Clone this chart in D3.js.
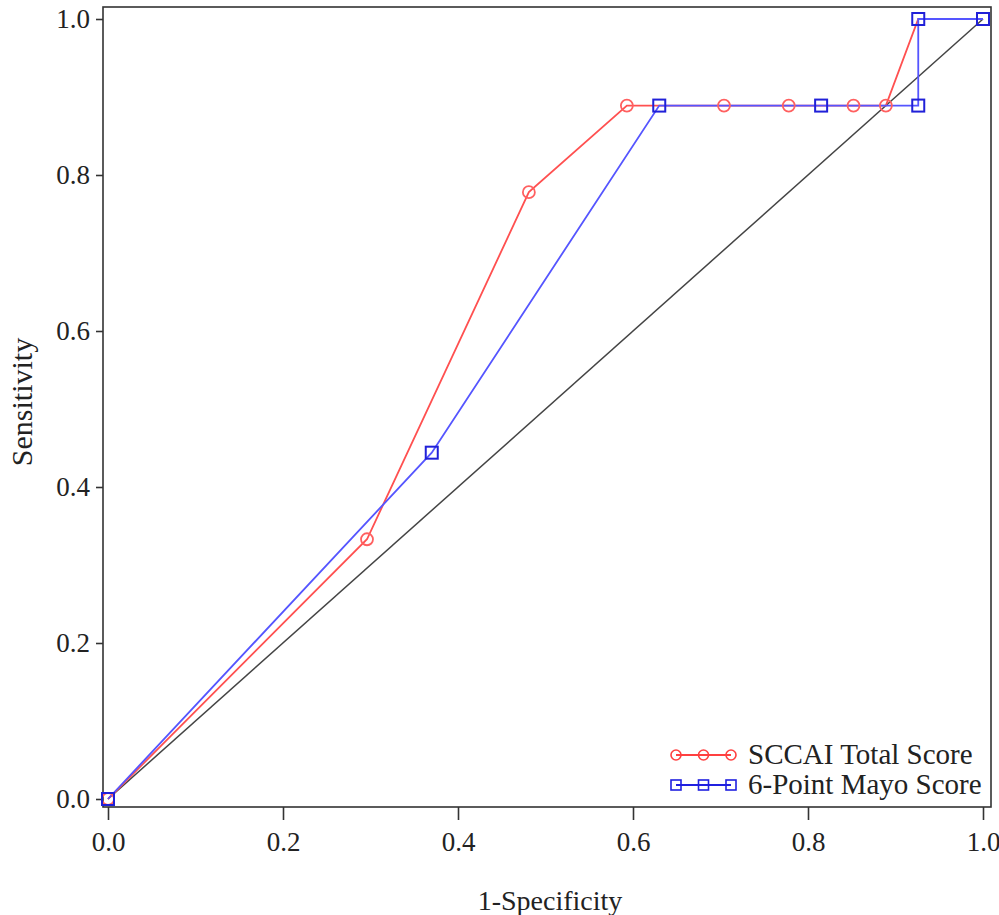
<!DOCTYPE html>
<html>
<head>
<meta charset="utf-8">
<script src="https://cdn.jsdelivr.net/npm/d3@7"></script>
<style>
  body { margin: 0; background: #fff; }
  text { font-family: "Liberation Serif", "DejaVu Serif", serif; fill: #222; }
</style>
</head>
<body>
<svg id="chart" width="999" height="915"></svg>
<script>
// ROC points
var sccaiX = [0, 0.296, 0.481, 0.593, 0.704, 0.778, 0.852, 0.889, 0.926, 1];
var sccaiY = [0, 0.333, 0.778, 0.889, 0.889, 0.889, 0.889, 0.889, 1.0, 1.0];
var mayoX = [0, 0.370, 0.630, 0.815, 0.926, 0.926, 1];
var mayoY = [0, 0.444, 0.889, 0.889, 0.889, 1.0, 1.0];
var tickVals = [0, 0.2, 0.4, 0.6, 0.8, 1.0];
var seriesNames = ["SCCAI Total Score", "6-Point Mayo Score"];

var svg = d3.select("#chart");
var frame = {left: 103, right: 991, top: 7, bottom: 807};
var x = d3.scaleLinear().domain([0, 1]).range([108, 983]);
var y = d3.scaleLinear().domain([0, 1]).range([799, 19]);

// frame
svg.append("rect")
  .attr("x", frame.left).attr("y", frame.top)
  .attr("width", frame.right - frame.left).attr("height", frame.bottom - frame.top)
  .attr("fill", "none").attr("stroke", "#333").attr("stroke-width", 1.6);

var xAxis = svg.append("g").attr("transform", "translate(0," + frame.bottom + ")")
  .call(d3.axisBottom(x).tickValues(tickVals).tickFormat(d3.format(".1f")).tickSize(13).tickPadding(5));
var yAxis = svg.append("g").attr("transform", "translate(" + frame.left + ",0)")
  .call(d3.axisLeft(y).tickValues(tickVals).tickFormat(d3.format(".1f")).tickSize(7).tickPadding(6));
[xAxis, yAxis].forEach(function(a){
  a.select(".domain").remove();
  a.selectAll("line").attr("stroke", "#333").attr("stroke-width", 1.6);
  a.selectAll("text").style("font-size", "27px").style("font-family", "Liberation Serif, serif").attr("fill", "#222");
});
xAxis.selectAll("text").attr("dy", "0.95em");

svg.append("text").attr("x", 550).attr("y", 910).attr("text-anchor", "middle")
  .style("font-size", "28px").text("1-Specificity");
svg.append("text").attr("transform", "translate(32,402) rotate(-90)").attr("text-anchor", "middle")
  .style("font-size", "30px").text("Sensitivity");

// reference diagonal
svg.append("line")
  .attr("x1", x(0)).attr("y1", y(0)).attr("x2", x(1)).attr("y2", y(1))
  .attr("stroke", "#444").attr("stroke-width", 1.5);

var line = d3.line().x(function(d){ return x(d[0]); }).y(function(d){ return y(d[1]); });
var sccai = d3.zip(sccaiX, sccaiY);
var mayo = d3.zip(mayoX, mayoY);

svg.append("path").datum(sccai).attr("d", line)
  .attr("fill", "none").attr("stroke", "#ff5050").attr("stroke-width", 1.8);
svg.append("path").datum(mayo).attr("d", line)
  .attr("fill", "none").attr("stroke", "#5555ff").attr("stroke-width", 1.8);

svg.append("g").selectAll("circle").data(sccai.slice(0, 8)).enter().append("circle")
  .attr("cx", function(d){ return x(d[0]); }).attr("cy", function(d){ return y(d[1]); })
  .attr("r", 6).attr("fill", "none").attr("stroke", "#ff6060").attr("stroke-width", 1.8);
svg.append("g").selectAll("rect").data(mayo).enter().append("rect")
  .attr("x", function(d){ return x(d[0]) - 6; }).attr("y", function(d){ return y(d[1]) - 6; })
  .attr("width", 12).attr("height", 12)
  .attr("fill", "none").attr("stroke", "#2020d8").attr("stroke-width", 2);

// legend
var leg = svg.append("g");
var rows = [{name: seriesNames[0], color: "#ff4040", mark: "circle"}, {name: seriesNames[1], color: "#2020e0", mark: "square"}];
rows.forEach(function(r, i){
  var ly = 755 + i * 30;
  leg.append("line").attr("x1", 676).attr("x2", 731).attr("y1", ly).attr("y2", ly)
    .attr("stroke", r.color).attr("stroke-width", 1.8);
  [676, 703.5, 731].forEach(function(mx){
    if (r.mark === "circle") {
      leg.append("circle").attr("cx", mx).attr("cy", ly).attr("r", 5)
        .attr("fill", "none").attr("stroke", r.color).attr("stroke-width", 1.6);
    } else {
      leg.append("rect").attr("x", mx - 5).attr("y", ly - 5).attr("width", 10).attr("height", 10)
        .attr("fill", "none").attr("stroke", r.color).attr("stroke-width", 1.6);
    }
  });
  leg.append("text").attr("x", 748).attr("y", ly + 9).style("font-size", "29px").text(r.name);
});
</script>
</body>
</html>
